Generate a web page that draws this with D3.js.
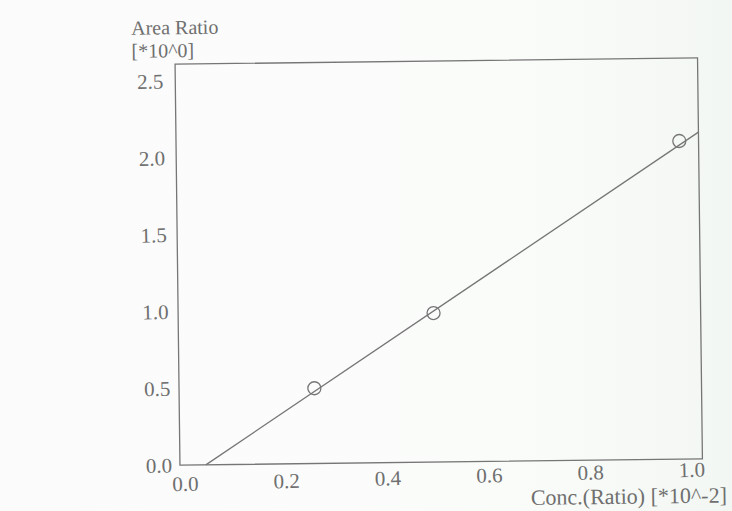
<!DOCTYPE html>
<meta charset="utf-8">
<body>
	<div id="chart"></div>
</body>
<style>
	body { margin: 0; background: #fcfcfc; }
	text { font-family: "Liberation Serif", "DejaVu Serif", serif; fill: #6f6f6f; }
</style>
<script src="https://cdn.jsdelivr.net/npm/d3@7"></script>
<script>

// Calibration points (conc ratio *10^-2, area ratio)
var concValues = [0.262, 0.499, 0.988];
var areaValues = [0.49, 0.97, 2.07];

// Fitted calibration line y = slope * x + intercept
var fitSlope = 2.17;
var fitIntercept = -0.10;

var xTicks = [0.0, 0.2, 0.4, 0.6, 0.8, 1.0];
var yTicks = [0.0, 0.5, 1.0, 1.5, 2.0, 2.5];

var xTitle = "Conc.(Ratio) [*10^-2]";
var yTitle = ["Area Ratio", "[*10^0]"];

var width = 732,
	height = 511;

var box = { left: 177.5, right: 700, top: 61, bottom: 462 };
var ink = "#767676";

(function run() {
	var svg = d3.select("#chart").append("svg")
		.attr("width", width)
		.attr("height", height);

	// Paper background with a faint tint on the right
	var grad = svg.append("defs").append("linearGradient")
		.attr("id", "paper")
		.attr("x1", "0").attr("x2", "1").attr("y1", "0").attr("y2", "0");
	grad.append("stop").attr("offset", "0").attr("stop-color", "#fbfbfb");
	grad.append("stop").attr("offset", "0.7").attr("stop-color", "#fafcfa");
	grad.append("stop").attr("offset", "1").attr("stop-color", "#f3f7f3");
	svg.append("rect")
		.attr("width", width)
		.attr("height", height)
		.attr("fill", "url(#paper)");

	// The photographed sheet is slightly rotated
	var g = svg.append("g")
		.attr("transform", "rotate(-0.7, 438, 262)");

	var x = d3.scaleLinear()
		.domain([-0.005, 1.026])
		.range([box.left, box.right]);
	var y = d3.scaleLinear()
		.domain([0, 2.61])
		.range([box.bottom, box.top]);

	// Frame
	g.append("rect")
		.attr("x", box.left)
		.attr("y", box.top)
		.attr("width", box.right - box.left)
		.attr("height", box.bottom - box.top)
		.attr("fill", "none")
		.attr("stroke", ink)
		.attr("stroke-width", 1.3);

	// Axes (labels only, no tick marks); a little extra tilt for the photo's perspective
	var yAxis = g.append("g")
		.attr("transform", "translate(" + (box.left - 8) + ",0) rotate(-0.6, 0, " + box.bottom + ")")
		.call(d3.axisLeft(y).tickValues(yTicks).tickSize(0).tickPadding(0)
			.tickFormat(d3.format(".1f")));
	var xAxis = g.append("g")
		.attr("transform", "translate(0," + (box.bottom + 11) + ") rotate(-0.9, 180, 0)")
		.call(d3.axisBottom(x).tickValues(xTicks).tickSize(0).tickPadding(0)
			.tickFormat(d3.format(".1f")));
	[xAxis, yAxis].forEach(function (a) {
		a.select(".domain").remove();
		a.selectAll("text")
			.attr("fill", "#6f6f6f")
			.style("font-family", "Liberation Serif")
			.style("font-size", "21px");
	});
	xAxis.selectAll("text").attr("x", 2);

	// Axis titles
	g.append("text")
		.attr("x", 724)
		.attr("y", 506)
		.attr("text-anchor", "end")
		.style("font-size", "22px")
		.text(xTitle);
	g.selectAll(".ytitle")
		.data(yTitle)
		.enter().append("text")
		.attr("class", "ytitle")
		.attr("x", 134)
		.attr("y", function (d, i) { return 31 + i * 23; })
		.style("font-size", "20px")
		.text(function (d) { return d; });

	// Fit line from its x-intercept to the right frame
	var x0 = -fitIntercept / fitSlope;
	var x1 = x.domain()[1];
	var line = d3.line()
		.x(function (d) { return x(d); })
		.y(function (d) { return y(fitSlope * d + fitIntercept); });
	g.append("path")
		.datum([x0, x1])
		.attr("d", line)
		.attr("fill", "none")
		.attr("stroke", ink)
		.attr("stroke-width", 1.3);

	// Points
	g.selectAll("circle")
		.data(concValues)
		.enter().append("circle")
		.attr("cx", function (d) { return x(d); })
		.attr("cy", function (d, i) { return y(areaValues[i]); })
		.attr("r", 6.5)
		.attr("fill", "none")
		.attr("stroke", ink)
		.attr("stroke-width", 1.3);
})();
</script>
